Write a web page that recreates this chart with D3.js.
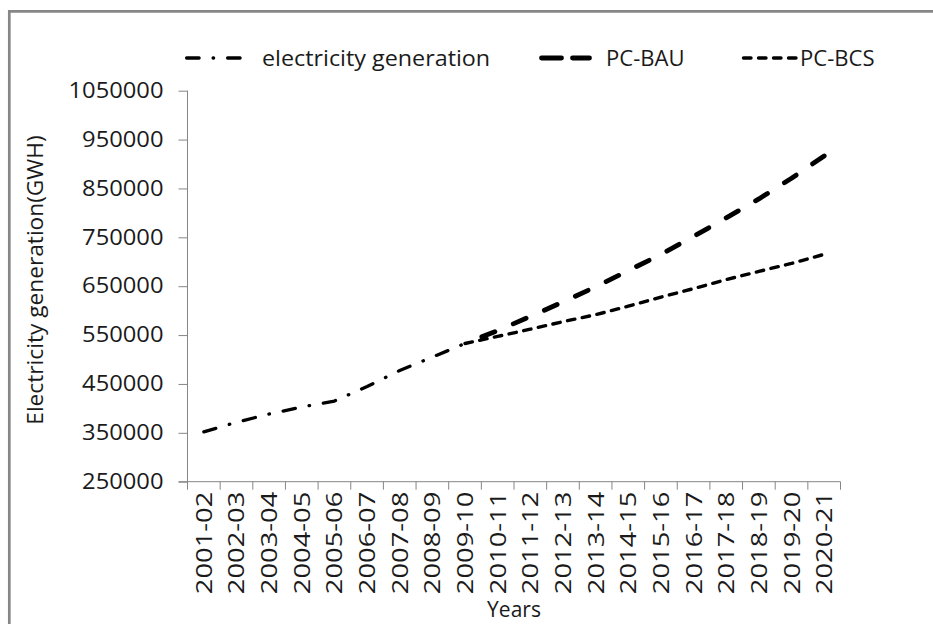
<!DOCTYPE html>
<html>
<head>
<meta charset="utf-8">
<script src="https://cdn.jsdelivr.net/npm/d3@7/dist/d3.min.js"></script>
<style>
  html, body { margin: 0; padding: 0; background: #fff; }
  svg text { font-family: "Open Sans", "Noto Sans", sans-serif; fill: #1a1a1a; }
</style>
</head>
<body>
<svg id="chart" width="933" height="624"></svg>
<script>
// ---- data ----
const years = ["2001-02","2002-03","2003-04","2004-05","2005-06","2006-07","2007-08","2008-09","2009-10","2010-11",
               "2011-12","2012-13","2013-14","2014-15","2015-16","2016-17","2017-18","2018-19","2019-20","2020-21"];
const generation = [352000, 371500, 388500, 402800, 415000, 444800, 477500, 505000, 532800,
                    null, null, null, null, null, null, null, null, null, null, null];
const pcBAU = [null, null, null, null, null, null, null, null, 532800, 559200,
               588000, 617900, 648600, 681900, 715000, 751900, 789700, 828600, 870800, 916500];
const pcBCS = [null, null, null, null, null, null, null, null, 532800, 547300,
               562000, 577400, 591700, 609100, 627700, 645100, 663500, 680300, 696600, 715300];
const yTicks = [250000, 350000, 450000, 550000, 650000, 750000, 850000, 950000, 1050000];
const seriesNames = ["electricity generation", "PC-BAU", "PC-BCS"];

// ---- helpers ----
function stretch(sel, factor) {
  sel.each(function () {
    const w = this.getComputedTextLength();
    d3.select(this).attr("textLength", w * factor).attr("lengthAdjust", "spacingAndGlyphs");
  });
}

// ---- layout ----
const svg = d3.select("#chart");
const axisColor = "#868686";
const x = d3.scaleBand().domain(years).range([187.5, 840.5]).paddingInner(0).paddingOuter(0);
const y = d3.scaleLinear().domain([250000, 1050000]).range([481.7, 90.7]);

svg.append("rect").attr("width", 933).attr("height", 624).attr("fill", "#fff");

// outer frame (top + left visible)
svg.append("path").attr("d", "M9.3,624 V11.3 H933").attr("fill", "none")
  .attr("stroke", axisColor).attr("stroke-width", 2.7);

// y axis
const yAxis = svg.append("g").attr("transform", `translate(${x.range()[0]},0)`)
  .call(d3.axisLeft(y).tickValues(yTicks).tickSize(9).tickPadding(15).tickFormat(d3.format("d")));
yAxis.select(".domain").attr("stroke", axisColor).attr("d", `M0,${y(1050000)}V${y(250000)}`);
yAxis.selectAll(".tick line").attr("stroke", axisColor);
yAxis.selectAll(".tick text").attr("font-size", 21).attr("fill", "#1a1a1a").call(stretch, 1.13);

// x axis
const xAxis = svg.append("g").attr("transform", `translate(0,${y(250000)})`)
  .call(d3.axisBottom(x).tickSize(0).tickFormat(d => d));
xAxis.select(".domain").attr("stroke", axisColor).attr("d", `M${x.range()[0] - 9},0H${x.range()[1]}`);
xAxis.selectAll(".tick text")
  .attr("font-size", 21)
  .attr("fill", "#1a1a1a")
  .attr("transform", "rotate(-90)")
  .attr("text-anchor", "end")
  .attr("dominant-baseline", "central")
  .attr("x", -10).attr("y", 0).attr("dy", null)
  .call(stretch, 1.3);
// boundary ticks between categories
const bounds = years.map(d => x(d)).concat([x.range()[1]]);
svg.append("g").selectAll("line").data(bounds).join("line")
  .attr("x1", d => d).attr("x2", d => d)
  .attr("y1", y(250000)).attr("y2", y(250000) + 8)
  .attr("stroke", axisColor).attr("stroke-width", 1);

// axis titles
svg.append("text").attr("transform", `translate(35,280) rotate(-90)`)
  .attr("text-anchor", "middle").attr("dominant-baseline", "central")
  .attr("font-size", 21).text("Electricity generation(GWH)").call(stretch, 1.08);
svg.append("text").attr("x", 514).attr("y", 617).attr("text-anchor", "middle")
  .attr("font-size", 21).text("Years");

// ---- lines ----
const cx = d => x(d) + x.bandwidth() / 2;
function lineFor(vals) {
  return d3.line().defined(d => d[1] != null).x(d => cx(d[0])).y(d => y(d[1]))(years.map((yr, i) => [yr, vals[i]]));
}
const styles = [
  { vals: generation, width: 3.3, dash: [12.5, 14, 0.5, 14], legDash: "12.5,14,0.5,14", alignEnd: false },
  { vals: pcBAU, width: 4.8, dash: [14, 20], legDash: "20,11", alignEnd: true },
  { vals: pcBCS, width: 3.4, dash: [7.5, 7.5], legDash: "7.5,7.5", alignEnd: false }
];
const plot = svg.append("g");
styles.forEach(s => {
  const p = plot.append("path").attr("d", lineFor(s.vals)).attr("fill", "none")
    .attr("stroke", "#000").attr("stroke-width", s.width)
    .attr("stroke-dasharray", s.dash.join(",")).attr("stroke-linecap", "round").attr("stroke-linejoin", "round");
  if (s.alignEnd) {
    const L = p.node().getTotalLength();
    const P = d3.sum(s.dash);
    const off = (((s.dash[0] - L) % P) + P) % P;
    p.attr("stroke-dashoffset", off);
  }
});

// ---- legend ----
const legendY = 58;
const legendItems = [
  { x0: 186.6, x1: 241.5, tx: 262 },
  { x0: 541.5, x1: 589.5, tx: 606 },
  { x0: 743.5, x1: 797, tx: 800 }
];
const leg = svg.append("g");
legendItems.forEach((it, i) => {
  leg.append("line").attr("x1", it.x0).attr("x2", it.x1).attr("y1", legendY).attr("y2", legendY)
    .attr("stroke", "#000").attr("stroke-width", styles[i].width)
    .attr("stroke-dasharray", styles[i].legDash).attr("stroke-linecap", "round");
  leg.append("text").attr("x", it.tx).attr("y", legendY).attr("dominant-baseline", "central")
    .attr("font-size", 21).text(seriesNames[i]).call(stretch, i === 0 ? 1.11 : 1.05);
});
</script>
</body>
</html>
